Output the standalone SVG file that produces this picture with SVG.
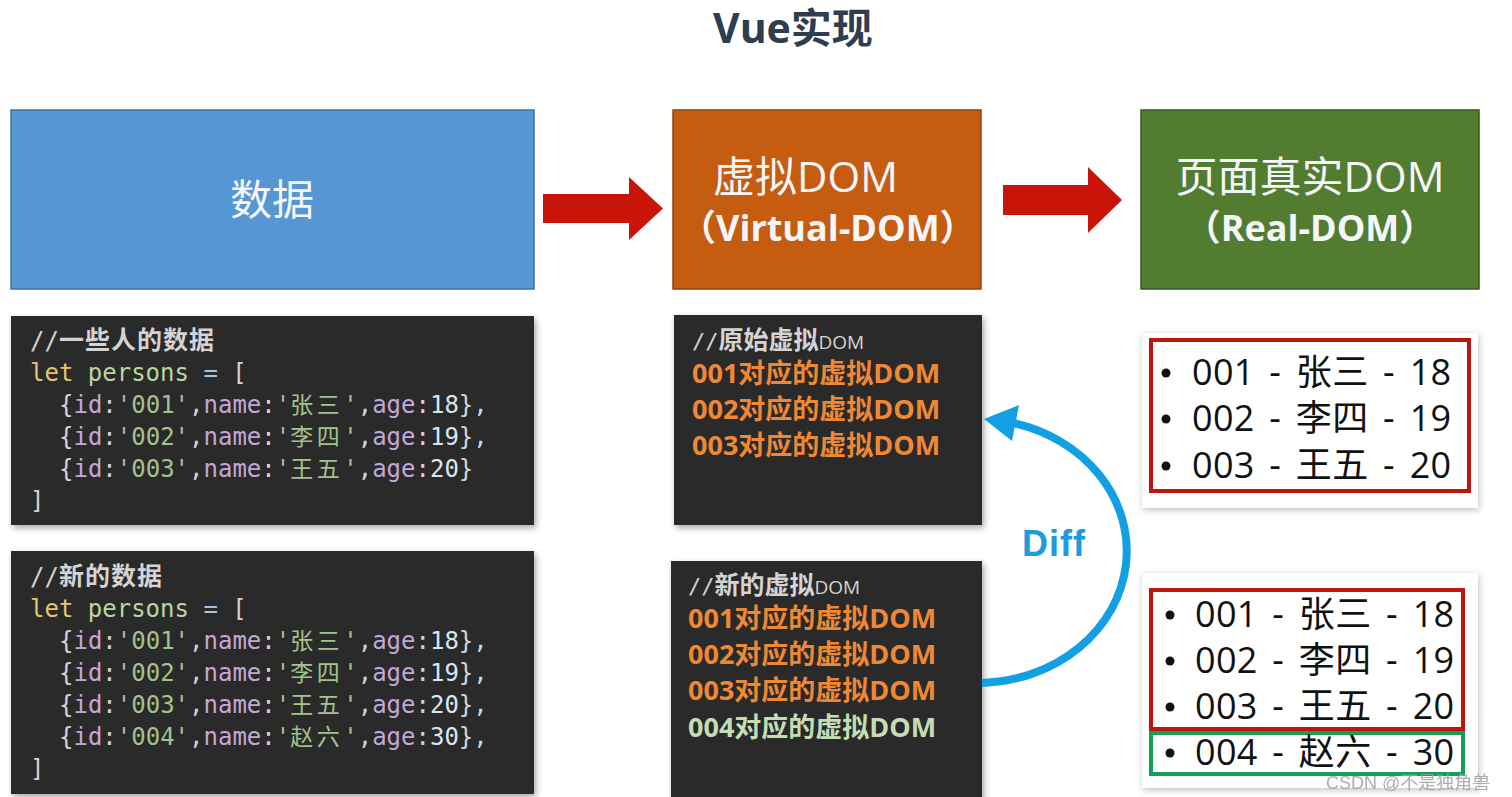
<svg xmlns="http://www.w3.org/2000/svg" width="1512" height="797" viewBox="0 0 1512 797">
<defs>
<filter id="sh" x="-5%" y="-5%" width="112%" height="115%">
<feDropShadow dx="2" dy="3" stdDeviation="3" flood-color="#000" flood-opacity="0.35"/>
</filter>
<filter id="shl" x="-5%" y="-5%" width="112%" height="115%">
<feDropShadow dx="1" dy="2" stdDeviation="3" flood-color="#000" flood-opacity="0.25"/>
</filter>
<style>
.cjk{font-family:"Noto Sans CJK SC",sans-serif}
.lab{font-family:"Open Sans","Noto Sans CJK SC",sans-serif;fill:#F4F6FA}
.code{font-family:"DejaVu Sans Mono","Noto Sans CJK SC",monospace;font-size:24px}
.cj{font-family:"Noto Sans CJK SC",sans-serif;font-size:23px;letter-spacing:3.5px}
.cm{fill:#D4D4D4}
.cmc{fill:#D4D4D4;font-family:"Noto Sans CJK SC",sans-serif;font-size:25px;font-weight:bold;letter-spacing:1px}
.kw{fill:#E6C56F}
.var{fill:#BAD6A2}
.op{fill:#A3C6E8}
.pu{fill:#D4D4D4}
.ky{fill:#C4A7D8}
.st{fill:#A3C38C}
.nu{fill:#D6E6F2}
.vd{font-family:"Open Sans","Noto Sans CJK SC",sans-serif;font-size:27px;font-weight:bold}
.or{fill:#EF8834}
.gr{fill:#C5DDB4}
.li{font-family:"Open Sans","Noto Sans CJK SC",sans-serif;font-size:36px;fill:#111;word-spacing:5px;letter-spacing:0.3px}
.dark{fill:#2A2A2A}
.arrow{fill:#C9140A}
</style>
</defs>
<rect width="1512" height="797" fill="#FFFFFF"/>

<g id="title">
<text x="713" y="43" font-family="Open Sans, Noto Sans CJK SC, sans-serif" font-size="41" font-weight="bold" fill="#2E3D4F">Vue实现</text>
</g>

<g id="data">
<rect x="11" y="110" width="523" height="179" fill="#5596D3" stroke="#41719C" stroke-width="1.5"/>
<text class="cjk" x="272" y="215" font-size="42" fill="#F4F6FA" text-anchor="middle">数据</text>
</g>

<g id="vdom">
<rect x="673" y="110" width="308" height="179" fill="#C65C10" stroke="#8F4410" stroke-width="1.5"/>
<text class="lab" x="713" y="192" font-size="42">虚拟DOM</text>
<text class="lab" x="680" y="241" font-size="36" font-weight="bold">（Virtual-DOM）</text>
</g>

<g id="realdom">
<rect x="1141" y="110" width="338" height="179" fill="#527D31" stroke="#385723" stroke-width="1.5"/>
<text class="lab" x="1310" y="192" font-size="42" text-anchor="middle">页面真实DOM</text>
<text class="lab" x="1310" y="241" font-size="36" font-weight="bold" text-anchor="middle">（Real-DOM）</text>
</g>

<g id="code-old">
<rect class="dark" x="11" y="316" width="523" height="209" filter="url(#sh)"/>
<text class="code" x="30" y="349"><tspan class="cm">//</tspan><tspan class="cmc">一些人的数据</tspan></text>
<text class="code" x="30" y="381"><tspan class="kw">let</tspan> <tspan class="var">persons</tspan> <tspan class="op">=</tspan> <tspan class="pu">[</tspan></text>
<text class="code" x="59" y="413"><tspan class="pu">{</tspan><tspan class="ky">id</tspan><tspan class="pu">:</tspan><tspan class="st">'001'</tspan><tspan class="pu">,</tspan><tspan class="ky">name</tspan><tspan class="pu">:</tspan><tspan class="st">'</tspan><tspan class="st cj">张三</tspan><tspan class="st">'</tspan><tspan class="pu">,</tspan><tspan class="ky">age</tspan><tspan class="pu">:</tspan><tspan class="nu">18</tspan><tspan class="pu">},</tspan></text>
<text class="code" x="59" y="445"><tspan class="pu">{</tspan><tspan class="ky">id</tspan><tspan class="pu">:</tspan><tspan class="st">'002'</tspan><tspan class="pu">,</tspan><tspan class="ky">name</tspan><tspan class="pu">:</tspan><tspan class="st">'</tspan><tspan class="st cj">李四</tspan><tspan class="st">'</tspan><tspan class="pu">,</tspan><tspan class="ky">age</tspan><tspan class="pu">:</tspan><tspan class="nu">19</tspan><tspan class="pu">},</tspan></text>
<text class="code" x="59" y="477"><tspan class="pu">{</tspan><tspan class="ky">id</tspan><tspan class="pu">:</tspan><tspan class="st">'003'</tspan><tspan class="pu">,</tspan><tspan class="ky">name</tspan><tspan class="pu">:</tspan><tspan class="st">'</tspan><tspan class="st cj">王五</tspan><tspan class="st">'</tspan><tspan class="pu">,</tspan><tspan class="ky">age</tspan><tspan class="pu">:</tspan><tspan class="nu">20</tspan><tspan class="pu">}</tspan></text>
<text class="code pu" x="30" y="509">]</text>
</g>

<g id="code-new">
<rect class="dark" x="11" y="551" width="523" height="243" filter="url(#sh)"/>
<text class="code" x="30" y="585"><tspan class="cm">//</tspan><tspan class="cmc">新的数据</tspan></text>
<text class="code" x="30" y="617"><tspan class="kw">let</tspan> <tspan class="var">persons</tspan> <tspan class="op">=</tspan> <tspan class="pu">[</tspan></text>
<text class="code" x="59" y="649"><tspan class="pu">{</tspan><tspan class="ky">id</tspan><tspan class="pu">:</tspan><tspan class="st">'001'</tspan><tspan class="pu">,</tspan><tspan class="ky">name</tspan><tspan class="pu">:</tspan><tspan class="st">'</tspan><tspan class="st cj">张三</tspan><tspan class="st">'</tspan><tspan class="pu">,</tspan><tspan class="ky">age</tspan><tspan class="pu">:</tspan><tspan class="nu">18</tspan><tspan class="pu">},</tspan></text>
<text class="code" x="59" y="681"><tspan class="pu">{</tspan><tspan class="ky">id</tspan><tspan class="pu">:</tspan><tspan class="st">'002'</tspan><tspan class="pu">,</tspan><tspan class="ky">name</tspan><tspan class="pu">:</tspan><tspan class="st">'</tspan><tspan class="st cj">李四</tspan><tspan class="st">'</tspan><tspan class="pu">,</tspan><tspan class="ky">age</tspan><tspan class="pu">:</tspan><tspan class="nu">19</tspan><tspan class="pu">},</tspan></text>
<text class="code" x="59" y="713"><tspan class="pu">{</tspan><tspan class="ky">id</tspan><tspan class="pu">:</tspan><tspan class="st">'003'</tspan><tspan class="pu">,</tspan><tspan class="ky">name</tspan><tspan class="pu">:</tspan><tspan class="st">'</tspan><tspan class="st cj">王五</tspan><tspan class="st">'</tspan><tspan class="pu">,</tspan><tspan class="ky">age</tspan><tspan class="pu">:</tspan><tspan class="nu">20</tspan><tspan class="pu">},</tspan></text>
<text class="code" x="59" y="745"><tspan class="pu">{</tspan><tspan class="ky">id</tspan><tspan class="pu">:</tspan><tspan class="st">'004'</tspan><tspan class="pu">,</tspan><tspan class="ky">name</tspan><tspan class="pu">:</tspan><tspan class="st">'</tspan><tspan class="st cj">赵六</tspan><tspan class="st">'</tspan><tspan class="pu">,</tspan><tspan class="ky">age</tspan><tspan class="pu">:</tspan><tspan class="nu">30</tspan><tspan class="pu">},</tspan></text>
<text class="code pu" x="30" y="777">]</text>
</g>

<g id="vdom-old">
<rect class="dark" x="674" y="315" width="308" height="210" filter="url(#sh)"/>
<text x="692" y="349"><tspan font-family="DejaVu Sans Mono, monospace" font-size="22" fill="#D4D4D4">//</tspan><tspan class="cjk" font-size="25" font-weight="bold" fill="#D4D4D4">原始虚拟</tspan><tspan font-family="Open Sans, sans-serif" font-size="19" fill="#D4D4D4">DOM</tspan></text>
<text class="vd or" x="692" y="383">001对应的虚拟DOM</text>
<text class="vd or" x="692" y="419">002对应的虚拟DOM</text>
<text class="vd or" x="692" y="455">003对应的虚拟DOM</text>
</g>

<g id="vdom-new">
<rect class="dark" x="671" y="561" width="311" height="240" filter="url(#sh)"/>
<text x="688" y="594"><tspan font-family="DejaVu Sans Mono, monospace" font-size="22" fill="#D4D4D4">//</tspan><tspan class="cjk" font-size="25" font-weight="bold" fill="#D4D4D4">新的虚拟</tspan><tspan font-family="Open Sans, sans-serif" font-size="19" fill="#D4D4D4">DOM</tspan></text>
<text class="vd or" x="688" y="628">001对应的虚拟DOM</text>
<text class="vd or" x="688" y="664">002对应的虚拟DOM</text>
<text class="vd or" x="688" y="700">003对应的虚拟DOM</text>
<text class="vd gr" x="688" y="737">004对应的虚拟DOM</text>
</g>

<g id="dom-old">
<rect x="1142" y="333" width="336" height="175" fill="#FFFFFF" filter="url(#shl)"/>
<rect x="1151" y="340" width="318" height="151" fill="none" stroke="#C0150C" stroke-width="4"/>
<circle cx="1166" cy="373" r="4.5" fill="#111"/>
<circle cx="1166" cy="419" r="4.5" fill="#111"/>
<circle cx="1166" cy="466" r="4.5" fill="#111"/>
<text class="li" x="1192" y="385">001 - 张三 - 18</text>
<text class="li" x="1192" y="431">002 - 李四 - 19</text>
<text class="li" x="1192" y="478">003 - 王五 - 20</text>
</g>

<g id="dom-new">
<rect x="1142" y="573" width="336" height="215" fill="#FFFFFF" filter="url(#shl)"/>
<rect x="1151" y="590" width="312" height="139" fill="none" stroke="#C0150C" stroke-width="4"/>
<rect x="1151" y="733" width="312" height="41" fill="none" stroke="#14A058" stroke-width="4"/>
<circle cx="1170" cy="615" r="4.5" fill="#111"/>
<circle cx="1170" cy="661" r="4.5" fill="#111"/>
<circle cx="1170" cy="707" r="4.5" fill="#111"/>
<circle cx="1170" cy="753" r="4.5" fill="#111"/>
<text class="li" x="1195" y="627">001 - 张三 - 18</text>
<text class="li" x="1195" y="673">002 - 李四 - 19</text>
<text class="li" x="1195" y="719">003 - 王五 - 20</text>
<text class="li" x="1195" y="765">004 - 赵六 - 30</text>
</g>

<g id="connectors">
<polygon class="arrow" points="543,194 629,194 629,177 663,208.5 629,240 629,223 543,223"/>
<polygon class="arrow" points="1003,185 1088,185 1088,167 1122,200 1088,233 1088,215 1003,215"/>
<path d="M 982 683 A 150 132 0 0 0 1013 423" fill="none" stroke="#139FE3" stroke-width="8"/>
<polygon points="984,419 1019,405 1012,441" fill="#139FE3"/>
<text x="1022" y="556" font-family="Liberation Sans, Arial, sans-serif" font-size="36" font-weight="bold" letter-spacing="1" fill="#1E9BDD">Diff</text>
</g>

<g id="watermark">
<text x="1326" y="789" font-family="Liberation Sans, Noto Sans CJK SC, sans-serif" font-size="18" fill="#A0A0A0" opacity="0.85">CSDN @不是独角兽</text>
</g>
</svg>
